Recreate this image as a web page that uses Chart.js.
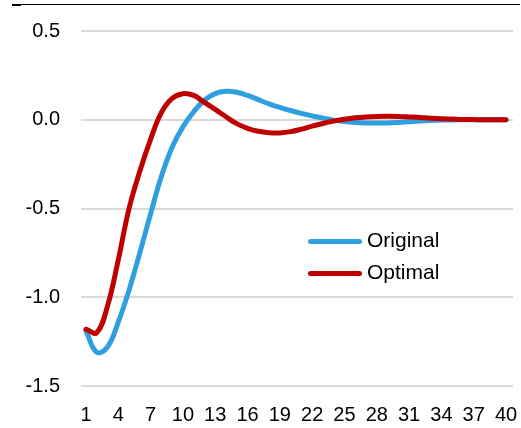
<!DOCTYPE html>
<html>
<head>
<meta charset="utf-8">
<script src="https://cdn.jsdelivr.net/npm/chart.js@4.4.0/dist/chart.umd.min.js"></script>
<style>
  html, body { margin: 0; padding: 0; background: #fff; }
  #wrap { position: relative; width: 521px; height: 428px; }
  #c { position: absolute; left: 0; top: 0; }
  .topline { position: absolute; left: 12px; top: 4px; width: 508px; height: 1px; background: #000; }
  .topmark { position: absolute; left: 12px; top: 4px; width: 9px; height: 2px; background: #000; }
  .lg { position: absolute; left: 308px; font-family: "Liberation Sans", Arial, sans-serif; font-size: 21px; color: #000; }
  .lg .sw { position: absolute; left: 0; width: 54px; height: 5px; border-radius: 3px; }
  .lg .tx { position: absolute; left: 59px; white-space: nowrap; line-height: 22px; }
</style>
</head>
<body>
<div id="wrap">
  <canvas id="c" width="521" height="428"></canvas>
  <div class="topline"></div>
  <div class="topmark"></div>
  <div class="lg" style="top:241px"><div class="sw" style="top:-2px;background:#2F9FE0"></div><div class="tx" style="top:-12px">Original</div></div>
  <div class="lg" style="top:273px"><div class="sw" style="top:-2px;background:#C00000"></div><div class="tx" style="top:-12px">Optimal</div></div>
</div>
<script>
const periods = [1,2,3,4,5,6,7,8,9,10,11,12,13,14,15,16,17,18,19,20,21,22,23,24,25,26,27,28,29,30,31,32,33,34,35,36,37,38,39,40];
const original = [-1.19,-1.31,-1.28,-1.14,-0.96,-0.75,-0.53,-0.32,-0.155,-0.04,0.045,0.11,0.147,0.16,0.155,0.137,0.113,0.09,0.07,0.052,0.036,0.022,0.009,-0.002,-0.01,-0.015,-0.018,-0.019,-0.018,-0.015,-0.011,-0.007,-0.004,-0.002,-0.001,0,0,0,0,0];
const optimal = [-1.18,-1.20,-1.05,-0.79,-0.50,-0.29,-0.11,0.04,0.12,0.147,0.137,0.098,0.058,0.017,-0.022,-0.048,-0.065,-0.073,-0.074,-0.067,-0.053,-0.036,-0.021,-0.008,0.003,0.011,0.016,0.019,0.02,0.019,0.016,0.013,0.009,0.006,0.004,0.002,0.001,0,0,0];
const xTicks = [1,4,7,10,13,16,19,22,25,28,31,34,37,40];
const yTicks = [-1.5,-1.0,-0.5,0.0,0.5];

const toPts = arr => arr.map((v, i) => ({ x: periods[i], y: v }));
const font = { family: "'Liberation Sans', Arial, sans-serif", size: 20 };

new Chart(document.getElementById('c'), {
  type: 'line',
  data: {
    datasets: [
      { label: 'Optimal', data: toPts(optimal), borderColor: '#C00000', borderWidth: 5, pointRadius: 0, tension: 0.4, order: 0, borderCapStyle: 'round', borderJoinStyle: 'round' },
      { label: 'Original', data: toPts(original), borderColor: '#2F9FE0', borderWidth: 5, pointRadius: 0, tension: 0.4, order: 1, borderCapStyle: 'round', borderJoinStyle: 'round' }
    ]
  },
  options: {
    responsive: false,
    animation: false,
    layout: { padding: { top: 31, right: 8, left: 0, bottom: 0 } },
    plugins: { legend: { display: false }, tooltip: { enabled: false } },
    scales: {
      x: {
        type: 'linear',
        min: 0.54,
        max: 40.65,
        afterBuildTicks: s => { s.ticks = xTicks.map(v => ({ value: v })); },
        afterFit: s => { s.height = 42; s.paddingLeft = 0; s.paddingRight = 0; },
        ticks: { font: font, color: '#000', padding: 17, autoSkip: false, maxRotation: 0, callback: v => String(v) },
        grid: { display: false, drawTicks: false },
        border: { display: false }
      },
      y: {
        min: -1.5,
        max: 0.5,
        afterBuildTicks: s => { s.ticks = yTicks.map(v => ({ value: v })); },
        afterFit: s => { s.width = 81; s.paddingTop = 0; s.paddingBottom = 0; },
        ticks: { font: font, color: '#000', padding: 21, callback: v => v.toFixed(1) },
        grid: { color: '#d9d9d9', lineWidth: 2, drawTicks: false },
        border: { display: false }
      }
    }
  }
});
</script>
</body>
</html>
